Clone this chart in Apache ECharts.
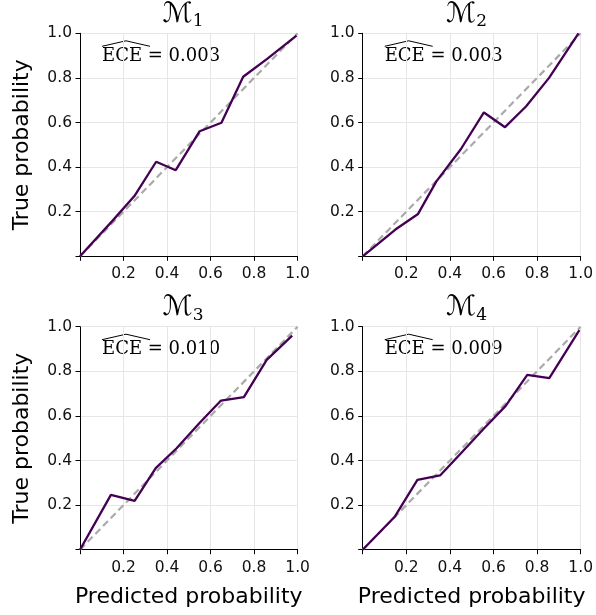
<!DOCTYPE html>
<html><head><meta charset="utf-8">
<script src="https://cdn.jsdelivr.net/npm/echarts@6/dist/echarts.min.js"></script>
<style>html,body{margin:0;padding:0;background:#fff}#c{width:596px;height:615px}</style>
</head><body><div id="c"></div>
<script>
// ---- data ----
const titles = ['1', '2', '3', '4'];
const eceValues = ['0.003', '0.003', '0.010', '0.009'];
const tickValues = [0.2, 0.4, 0.6, 0.8, 1.0];

const m1x = [0, 0.15, 0.25, 0.35, 0.44, 0.55, 0.65, 0.75, 0.86, 0.995];
const m1y = [0, 0.16, 0.27, 0.424, 0.386, 0.561, 0.599, 0.805, 0.885, 0.99];

const m2x = [0, 0.15, 0.254, 0.338, 0.45, 0.556, 0.653, 0.749, 0.855, 0.99];
const m2y = [0, 0.12, 0.19, 0.336, 0.48, 0.645, 0.579, 0.672, 0.80, 1.0];

const m3x = [0, 0.142, 0.251, 0.348, 0.444, 0.548, 0.648, 0.753, 0.858, 0.975];
const m3y = [0, 0.246, 0.219, 0.366, 0.455, 0.567, 0.669, 0.684, 0.851, 0.96];

const m4x = [0, 0.148, 0.251, 0.355, 0.454, 0.553, 0.656, 0.755, 0.856, 0.994];
const m4y = [0, 0.149, 0.313, 0.333, 0.436, 0.54, 0.645, 0.784, 0.769, 0.985];

const panelsX = [m1x, m2x, m3x, m4x];
const panelsY = [m1y, m2y, m3y, m4y];

// ---- layout ----
const lefts = [80, 362.7, 80, 362.7];
const tops = [33.3, 33.3, 326.7, 326.7];
const W = [217.6, 219, 217.6, 219];
const H = 223;

const chart = echarts.init(document.getElementById('c'), null, {renderer: 'canvas'});
const grid = [], xAxis = [], yAxis = [], series = [], graphic = [];
const sans = 'DejaVu Sans';
const lineCol = '#440154';

for (let i = 0; i < 4; i++) {
  grid.push({left: lefts[i], top: tops[i], width: W[i], height: H});
  const common = {
    gridIndex: i, type: 'value', min: 0, max: 1, interval: 0.2,
    axisLine: {show: true, onZero: false, lineStyle: {color: '#000', width: 1}},
    axisTick: {show: true, length: 4.5, lineStyle: {color: '#000'}},
    splitLine: {show: true, lineStyle: {color: '#e6e6e6', width: 1}},
    axisLabel: {
      fontFamily: sans, fontSize: 15.5, color: '#111',
      formatter: v => (v === 0 ? '' : tickValues.find(t => Math.abs(t - v) < 1e-9).toFixed(1))
    }
  };
  const isBottom = i >= 2, isLeft = i % 2 === 0;
  xAxis.push(Object.assign({}, common, {
    position: 'bottom',
    axisLabel: Object.assign({}, common.axisLabel, {margin: 10}),
    name: isBottom ? 'Predicted probability' : '',
    nameLocation: 'middle', nameGap: 37,
    nameTextStyle: {fontFamily: sans, fontSize: 22, color: '#000'}
  }));
  yAxis.push(Object.assign({}, common, {
    position: 'left',
    axisLabel: Object.assign({}, common.axisLabel, {margin: 8}),
    name: isLeft ? 'True probability' : '',
    nameLocation: 'middle', nameGap: 47,
    nameTextStyle: {fontFamily: sans, fontSize: 22, color: '#000'}
  }));
  series.push({
    type: 'line', xAxisIndex: i, yAxisIndex: i, silent: true,
    data: [[0, 0], [1, 1]], symbol: 'none',
    lineStyle: {color: '#aaaaaa', width: 2.2, type: [7, 4]}, z: 2
  });
  series.push({
    type: 'line', xAxisIndex: i, yAxisIndex: i, silent: true,
    data: panelsX[i].map((x, k) => [x, panelsY[i][k]]), symbol: 'none',
    lineStyle: {color: lineCol, width: 2.3}, z: 3
  });
  const cx = lefts[i] + W[i] / 2;
  graphic.push({
    type: 'text', left: cx - 26, top: tops[i] - 33, silent: true,
    style: {text: 'ℳ', font: 'italic 28px "DejaVu Sans"', fill: '#000'}
  });
  graphic.push({
    type: 'text', left: cx + 4, top: tops[i] - 20, silent: true,
    style: {text: titles[i], font: '17px "DejaVu Serif"', fill: '#000'}
  });
  const tx = lefts[i] + 22;
  graphic.push({
    type: 'text', left: tx, top: tops[i] + 14, silent: true,
    style: {text: 'ECE = ' + eceValues[i], font: '18px "DejaVu Serif"', fill: '#000'}
  });
  graphic.push({
    type: 'polyline', silent: true,
    shape: {points: [[tx, tops[i] + 13], [tx + 24, tops[i] + 7.5], [tx + 48, tops[i] + 13]]},
    style: {stroke: '#000', lineWidth: 1, fill: null}
  });
}

chart.setOption({
  animation: false, backgroundColor: '#fff',
  grid, xAxis, yAxis, series, graphic
});
</script></body></html>
